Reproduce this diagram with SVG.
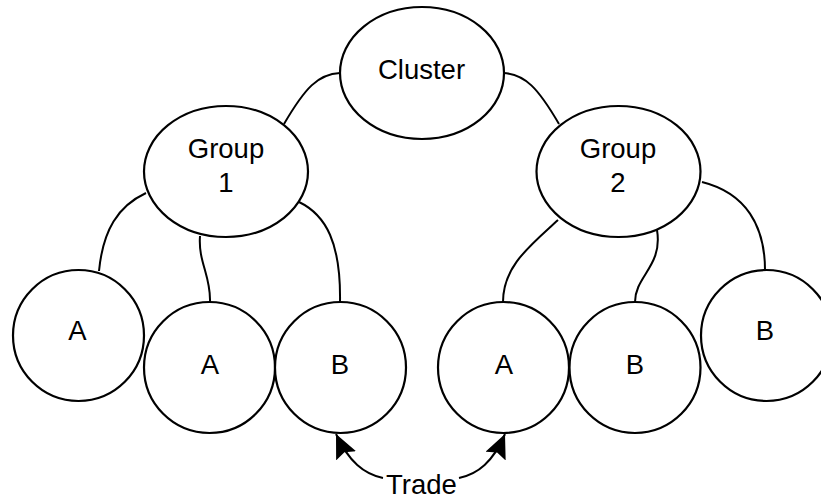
<svg xmlns="http://www.w3.org/2000/svg" width="821" height="498" viewBox="0 0 821 498">
<style>
.n{fill:#fff;stroke:#000;stroke-width:2.2}
.t{font-family:"Liberation Sans",Arial,sans-serif;font-size:27.5px;fill:#000;text-anchor:middle}
.c{fill:none;stroke:#000;stroke-width:2}
</style>
<defs>
<marker id="ah" markerUnits="userSpaceOnUse" markerWidth="26" markerHeight="24" refX="24" refY="11" orient="auto">
<path d="M0,0 L24,11 L0,22 L4,11 Z" fill="#000"/>
</marker>
</defs>
<rect width="821" height="498" fill="#fff"/>
<g id="connectors">
<path class="c" d="M340,73 C318,74 305,88 284,124"/>
<path class="c" d="M503,73 C525,74 538,88 559,124"/>
<path class="c" d="M146,193 C118,206 103,230 99,271"/>
<path class="c" d="M200,236 C198,262 211,276 210,302"/>
<path class="c" d="M299,202 C326,215 341,243 340,302"/>
<path class="c" d="M558,220 C530,246 503,266 503,302"/>
<path class="c" d="M657,230 C663,266 635,276 635,302"/>
<path class="c" d="M702,182 C746,193 765,226 765,270"/>
<path class="c" d="M383,478 C364,474 349,462 336,434" marker-end="url(#ah)"/>
<path class="c" d="M459,478 C478,474 493,462 505,434" marker-end="url(#ah)"/>
</g>
<g id="cluster"><ellipse class="n" cx="422" cy="73" rx="82" ry="66"/><text class="t" x="421.5" y="78.5">Cluster</text></g>
<g id="group1"><ellipse class="n" cx="226" cy="171.5" rx="82" ry="65.5"/><text class="t" x="226" y="157.5">Group</text><text class="t" x="226" y="191.5">1</text></g>
<g id="group2"><ellipse class="n" cx="618.5" cy="171.5" rx="82" ry="65.5"/><text class="t" x="618" y="157.5">Group</text><text class="t" x="618" y="191.5">2</text></g>
<g id="a1"><circle class="n" cx="78.5" cy="335.5" r="65.5"/><text class="t" x="77.5" y="339.5">A</text></g>
<g id="a2"><circle class="n" cx="209.5" cy="367.5" r="65.5"/><text class="t" x="210" y="374">A</text></g>
<g id="b1"><circle class="n" cx="340.5" cy="367.5" r="65.5"/><text class="t" x="340" y="374">B</text></g>
<g id="a3"><circle class="n" cx="503.5" cy="367.5" r="65.5"/><text class="t" x="504" y="373.5">A</text></g>
<g id="b2"><circle class="n" cx="635" cy="367.5" r="65.5"/><text class="t" x="635" y="373.5">B</text></g>
<g id="b3"><circle class="n" cx="766.5" cy="335.5" r="65.5"/><text class="t" x="765" y="340">B</text></g>
<g id="trade"><text class="t" x="421.5" y="493.5">Trade</text></g>
</svg>
